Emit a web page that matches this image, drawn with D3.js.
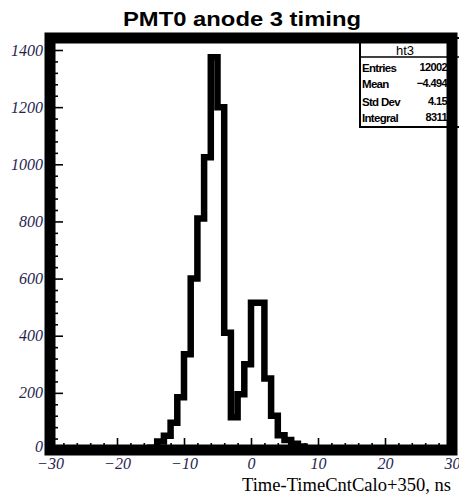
<html>
<head>
    <script src="https://d3js.org/d3.v7.min.js"></script>
    <style>
        body { margin: 0; background: #fff; }
    </style>
</head>

<body>
    <div id="cont"></div>

    <script>
        // histogram ht3, 1 ns bins, only the non-empty part
        var binLow = [-15, -14, -13, -12, -11, -10, -9, -8, -7, -6, -5, -4, -3, -2, -1, 0, 1, 2, 3, 4, 5, 6, 7, 8, 9];
        var counts = [8, 30, 50, 95, 185, 335, 600, 810, 1025, 1375, 1200, 410, 115, 195, 300, 515, 515, 250, 120, 52, 35, 22, 12, 6, 3];
        var binWidth = 1;

        var xTicks = [-30, -20, -10, 0, 10, 20, 30];
        var xTickLabels = ["\u221230", "\u221220", "\u221210", "0", "10", "20", "30"];
        var yTicks = [0, 200, 400, 600, 800, 1000, 1200, 1400];

        var statNames = ["Entries", "Mean", "Std Dev", "Integral"];
        var statValues = ["12002", "\u22124.494", "4.15", "8311"];

        var W = 459, H = 497;
        var svg = d3.select("#cont").append("svg")
            .attr("width", W)
            .attr("height", H);

        var x = d3.scaleLinear().domain([-30, 30]).range([50, 452]);
        var y = d3.scaleLinear().domain([0, 1442]).range([450, 38]);

        // title
        svg.append("text")
            .attr("x", 242).attr("y", 26)
            .attr("text-anchor", "middle")
            .attr("font-family", "Liberation Sans, Arial, sans-serif")
            .attr("font-weight", "bold")
            .attr("font-size", 21)
            .attr("textLength", 238)
            .attr("lengthAdjust", "spacingAndGlyphs")
            .text("PMT0 anode 3 timing");

        // histogram outline
        var pts = [[binLow[0], 0]];
        binLow.forEach(function(b, i) {
            pts.push([b, counts[i]]);
            pts.push([b + binWidth, counts[i]]);
        });
        pts.push([binLow[binLow.length - 1] + binWidth, 0]);

        var line = d3.line()
            .x(function(d) { return x(d[0]); })
            .y(function(d) { return y(d[1]); });

        svg.append("path")
            .attr("d", line(pts))
            .attr("fill", "none")
            .attr("stroke", "#000")
            .attr("stroke-width", 6.5)
            .attr("stroke-linejoin", "miter");

        // minor ticks
        var xMinor = d3.range(-30, 31, 2).filter(function(v) { return v % 10 != 0; });
        var yMinor = d3.range(0, 1441, 40).filter(function(v) { return v % 200 != 0; });

        var tickColor = "#000";
        var labColor = "#1f2550";

        var xAxis = svg.append("g")
            .attr("transform", "translate(0,450)")
            .call(d3.axisBottom(x).tickValues(xTicks).tickSizeInner(-12).tickSizeOuter(0)
                .tickPadding(8).tickFormat(function(d, i) { return xTickLabels[i]; }));
        xAxis.select(".domain").remove();
        xAxis.selectAll("line").attr("stroke", tickColor).attr("stroke-width", 1.6);
        xAxis.selectAll("text")
            .attr("font-family", "Liberation Serif, Times New Roman, serif")
            .attr("font-style", "italic")
            .attr("font-size", 16)
            .attr("fill", labColor);

        var xAxisMinor = svg.append("g")
            .attr("transform", "translate(0,450)")
            .call(d3.axisBottom(x).tickValues(xMinor).tickSizeInner(-7).tickSizeOuter(0).tickFormat(""));
        xAxisMinor.select(".domain").remove();
        xAxisMinor.selectAll("line").attr("stroke", tickColor).attr("stroke-width", 1.6);

        var yAxis = svg.append("g")
            .attr("transform", "translate(50,0)")
            .call(d3.axisLeft(y).tickValues(yTicks).tickSizeInner(-13).tickSizeOuter(0)
                .tickPadding(7).tickFormat(d3.format("d")));
        yAxis.select(".domain").remove();
        yAxis.selectAll("line").attr("stroke", tickColor).attr("stroke-width", 1.6);
        yAxis.selectAll("text")
            .attr("font-family", "Liberation Serif, Times New Roman, serif")
            .attr("font-style", "italic")
            .attr("font-size", 16)
            .attr("fill", labColor);
        // keep the "0" label just clear of the x labels
        yAxis.selectAll(".tick").filter(function(d) { return d === 0; })
            .select("text").attr("dy", "0.1em");

        var yAxisMinor = svg.append("g")
            .attr("transform", "translate(50,0)")
            .call(d3.axisLeft(y).tickValues(yMinor).tickSizeInner(-8).tickSizeOuter(0).tickFormat(""));
        yAxisMinor.select(".domain").remove();
        yAxisMinor.selectAll("line").attr("stroke", tickColor).attr("stroke-width", 1.6);

        // x axis title
        svg.append("text")
            .attr("x", 451).attr("y", 491)
            .attr("text-anchor", "end")
            .attr("font-family", "Liberation Serif, Times New Roman, serif")
            .attr("font-size", 19)
            .attr("textLength", 209)
            .attr("lengthAdjust", "spacingAndGlyphs")
            .text("Time-TimeCntCalo+350, ns");

        // stats box
        var box = svg.append("g");
        box.append("rect")
            .attr("x", 360).attr("y", 38)
            .attr("width", 100).attr("height", 89)
            .attr("fill", "#fff")
            .attr("stroke", "#000")
            .attr("stroke-width", 2);
        box.append("line")
            .attr("x1", 360).attr("x2", 460)
            .attr("y1", 57).attr("y2", 57)
            .attr("stroke", "#000").attr("stroke-width", 1.5);
        box.append("text")
            .attr("x", 405).attr("y", 55)
            .attr("text-anchor", "middle")
            .attr("font-family", "Liberation Sans, Arial, sans-serif")
            .attr("font-size", 13)
            .text("ht3");

        var rowY = [72, 88, 106, 122];
        box.selectAll(".sname").data(statNames).enter()
            .append("text")
            .attr("class", "sname")
            .attr("x", 362)
            .attr("y", function(d, i) { return rowY[i]; })
            .attr("font-family", "Liberation Sans, Arial, sans-serif")
            .attr("font-weight", "bold")
            .attr("font-size", 11.5)
            .attr("letter-spacing", -0.7)
            .text(function(d) { return d; });
        box.selectAll(".sval").data(statValues).enter()
            .append("text")
            .attr("class", "sval")
            .attr("x", 447)
            .attr("y", function(d, i) { return rowY[i] - 1; })
            .attr("text-anchor", "end")
            .attr("font-family", "Liberation Sans, Arial, sans-serif")
            .attr("font-weight", "bold")
            .attr("font-size", 11)
            .attr("letter-spacing", -0.6)
            .text(function(d) { return d; });

        // thick frame
        svg.append("rect")
            .attr("x", x(-30)).attr("y", y(1442))
            .attr("width", x(30) - x(-30))
            .attr("height", y(0) - y(1442))
            .attr("fill", "none")
            .attr("stroke", "#000")
            .attr("stroke-width", 11);
    </script>
</body>
</html>
